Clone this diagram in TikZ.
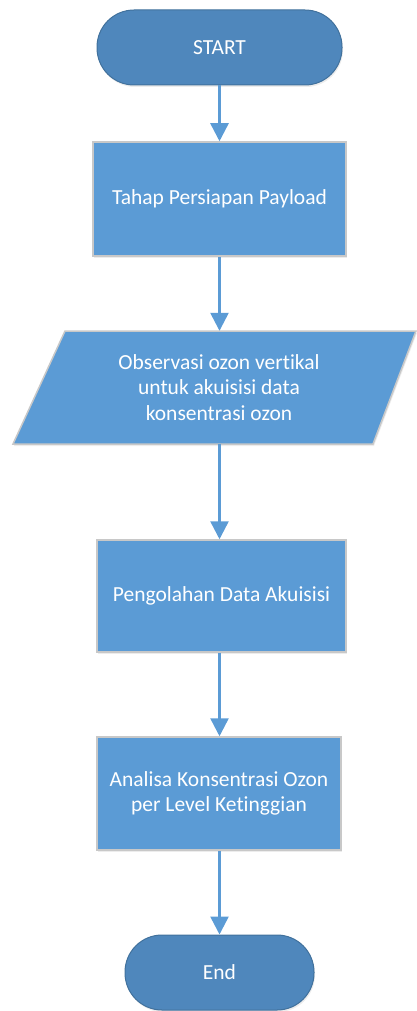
\documentclass[tikz,border=0pt]{standalone}
\usepackage{fontspec}
\setmainfont{Carlito}[Ligatures=NoCommon]
\usetikzlibrary{arrows.meta,shadows}
\definecolor{boxblue}{HTML}{5B9BD5}
\definecolor{termblue}{HTML}{4F87BC}
\definecolor{termedge}{HTML}{41719C}
\definecolor{boxedge}{HTML}{C8C8C8}
\begin{document}
\begin{tikzpicture}[x=1pt,y=-1pt,
  txt/.style={text=white,align=center,font=\fontsize{21.5}{25.5}\selectfont,inner sep=0pt},
  term/.style={txt,draw=termedge,fill=termblue,line width=1pt,rounded corners=37pt,
    minimum height=75pt,drop shadow={shadow xshift=1pt,shadow yshift=-2pt,opacity=0.15,fill=gray}},
  procbox/.style={txt,draw=boxedge,line width=1.5pt,fill=boxblue,
    drop shadow={shadow xshift=1pt,shadow yshift=-2pt,opacity=0.15,fill=gray}},
  datashape/.style={draw=boxedge,line width=1.5pt,fill=boxblue},
  conn/.style={draw=boxblue,line width=2.5pt,-{Triangle[length=18pt,width=18pt]}}]
\useasboundingbox (0,0) rectangle (416,1011);
\node[term,minimum width=245pt] (s) at (219.5,47.5) {START};
\node[procbox,minimum width=253pt,minimum height=114pt] (a) at (219.5,199) {Tahap Persiapan Payload};
\fill[gray,opacity=0.15] (66,333) -- (417,333) -- (374,446) -- (14,446) -- cycle;
\draw[datashape] (65,331) -- (416,331) -- (373,444) -- (13,444) -- cycle;
\node[txt,minimum width=200pt,minimum height=113pt] (p) at (219,387.5) {Observasi ozon vertikal\\untuk akuisisi data\\konsentrasi ozon};
\node[procbox,minimum width=249pt,minimum height=112pt] (c) at (221.5,596) {Pengolahan Data Akuisisi};
\node[procbox,minimum width=244pt,minimum height=113pt] (d) at (219,793.5) {Analisa Konsentrasi Ozon\\per Level Ketinggian};
\node[term,minimum width=189pt] (e) at (219.5,972.5) {End};
\draw[conn] (s.south) -- (s.south |- a.north);
\draw[conn] (a.south -| s.south) -- (s.south |- p.north);
\draw[conn] (p.south -| s.south) -- (s.south |- c.north);
\draw[conn] (c.south -| s.south) -- (s.south |- d.north);
\draw[conn] (d.south -| s.south) -- (s.south |- e.north);
\end{tikzpicture}
\end{document}
